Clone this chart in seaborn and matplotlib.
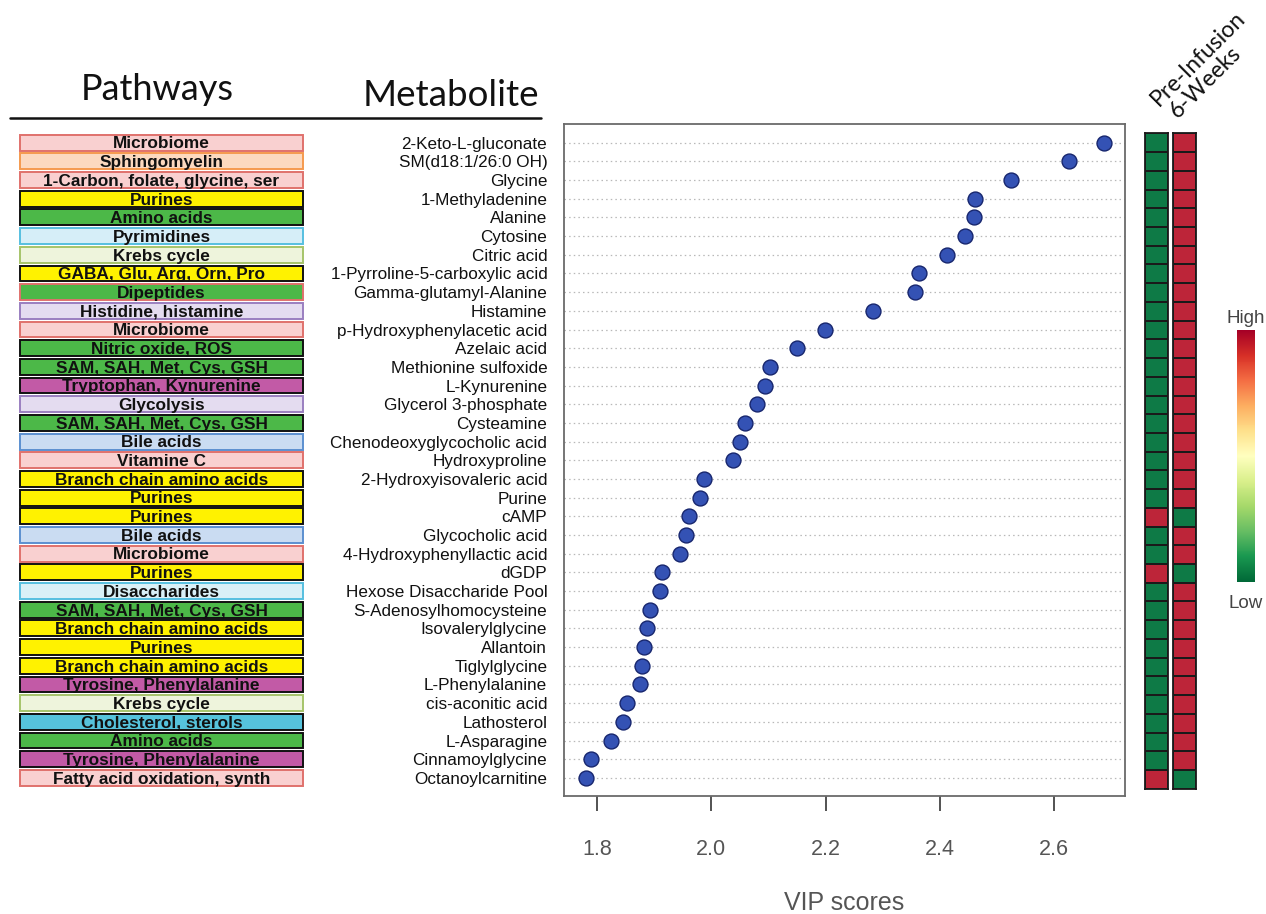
import numpy as np
import pandas as pd
import matplotlib
matplotlib.use("Agg")
import matplotlib.pyplot as plt
import matplotlib as mpl
from matplotlib.colors import ListedColormap
from matplotlib.lines import Line2D
import seaborn as sns

# ---------------- data ----------------
metabolites = [
    "2-Keto-L-gluconate", "SM(d18:1/26:0 OH)", "Glycine", "1-Methyladenine", "Alanine",
    "Cytosine", "Citric acid", "1-Pyrroline-5-carboxylic acid", "Gamma-glutamyl-Alanine",
    "Histamine", "p-Hydroxyphenylacetic acid", "Azelaic acid", "Methionine sulfoxide",
    "L-Kynurenine", "Glycerol 3-phosphate", "Cysteamine", "Chenodeoxyglycocholic acid",
    "Hydroxyproline", "2-Hydroxyisovaleric acid", "Purine", "cAMP", "Glycocholic acid",
    "4-Hydroxyphenyllactic acid", "dGDP", "Hexose Disaccharide Pool",
    "S-Adenosylhomocysteine", "Isovalerylglycine", "Allantoin", "Tiglylglycine",
    "L-Phenylalanine", "cis-aconitic acid", "Lathosterol", "L-Asparagine",
    "Cinnamoylglycine", "Octanoylcarnitine",
]
vip_scores = [
    2.688, 2.626, 2.525, 2.462, 2.459, 2.444, 2.413, 2.363, 2.356, 2.283,
    2.199, 2.149, 2.103, 2.094, 2.080, 2.059, 2.050, 2.038, 1.987, 1.980,
    1.961, 1.956, 1.945, 1.914, 1.910, 1.893, 1.888, 1.882, 1.879, 1.875,
    1.853, 1.846, 1.825, 1.789, 1.781,
]
pathways = [
    "Microbiome", "Sphingomyelin", "1-Carbon, folate, glycine, ser", "Purines",
    "Amino acids", "Pyrimidines", "Krebs cycle", "GABA, Glu, Arg, Orn, Pro",
    "Dipeptides", "Histidine, histamine", "Microbiome", "Nitric oxide, ROS",
    "SAM, SAH, Met, Cys, GSH", "Tryptophan, Kynurenine", "Glycolysis",
    "SAM, SAH, Met, Cys, GSH", "Bile acids", "Vitamine C", "Branch chain amino acids",
    "Purines", "Purines", "Bile acids", "Microbiome", "Purines", "Disaccharides",
    "SAM, SAH, Met, Cys, GSH", "Branch chain amino acids", "Purines",
    "Branch chain amino acids", "Tyrosine, Phenylalanine", "Krebs cycle",
    "Cholesterol, sterols", "Amino acids", "Tyrosine, Phenylalanine",
    "Fatty acid oxidation, synth",
]
# relative level: 1 = high, 0 = low
pre_infusion = [0]*20 + [1, 0, 0, 1] + [0]*10 + [1]
six_weeks = [1 - v for v in pre_infusion]
groups = ["Pre-Infusion", "6-Weeks"]
xticks = [1.8, 2.0, 2.2, 2.4, 2.6]

# ---------------- styles ----------------
PINK, RED = "#f9d0d0", "#e0716c"
YEL, GRN, MAG = "#fff200", "#4cb848", "#c25aa6"
path_style = {
    "Microbiome": (PINK, RED),
    "Sphingomyelin": ("#fcd9bf", "#f59a4e"),
    "1-Carbon, folate, glycine, ser": (PINK, RED),
    "Purines": (YEL, "#111111"),
    "Amino acids": (GRN, "#111111"),
    "Pyrimidines": ("#d6eef8", "#56bfe0"),
    "Krebs cycle": ("#eef4dc", "#a6c46a"),
    "GABA, Glu, Arg, Orn, Pro": (YEL, "#111111"),
    "Dipeptides": (GRN, RED),
    "Histidine, histamine": ("#e4dcf0", "#9a7fc0"),
    "Nitric oxide, ROS": (GRN, "#111111"),
    "SAM, SAH, Met, Cys, GSH": (GRN, "#111111"),
    "Tryptophan, Kynurenine": (MAG, "#111111"),
    "Glycolysis": ("#e4dcf0", "#9a7fc0"),
    "Bile acids": ("#cadcf2", "#5b8fd0"),
    "Vitamine C": (PINK, RED),
    "Branch chain amino acids": (YEL, "#111111"),
    "Disaccharides": ("#d9f0f7", "#56bfe0"),
    "Tyrosine, Phenylalanine": (MAG, "#111111"),
    "Cholesterol, sterols": ("#56c3dc", "#111111"),
    "Fatty acid oxidation, synth": (PINK, RED),
}

W, H = 1266, 914
sns.set_theme(style="white")
plt.rcParams["font.family"] = ["Liberation Sans", "DejaVu Sans"]

fig = plt.figure(figsize=(W/100, H/100), dpi=100)

def rect(x0, y0, x1, y1):
    return [x0/W, 1 - y1/H, (x1 - x0)/W, (y1 - y0)/H]

n = len(metabolites)
AX_TOP, AX_BOT = 124, 796
YLIM = (n - 1 + 0.97, -1.0)

# ---------------- main dot plot ----------------
ax = fig.add_axes(rect(564, AX_TOP, 1125, AX_BOT))
df = pd.DataFrame({"Metabolite": metabolites, "VIP": vip_scores})
sns.scatterplot(data=df, x="VIP", y="Metabolite", ax=ax, s=115,
                color="#3452b4", edgecolor="#17266e", linewidth=1.0, zorder=3)
ax.set_xlim(1.742, 2.724)
ax.set_ylim(*YLIM)
ax.grid(axis="y", linestyle=(0, (1.2, 2.5)), color="#b8b8b8", linewidth=0.9)
ax.grid(axis="x", visible=False)
for sp in ax.spines.values():
    sp.set_color("#6a6a6a")
    sp.set_linewidth(1.3)
ax.set_xticks(xticks)
ax.set_xticklabels([f"{t:.1f}" for t in xticks])
ax.tick_params(axis="x", direction="out", length=11, width=1.3, color="#444444",
               labelsize=15.5, labelcolor="#555555", pad=20, bottom=True)
ax.tick_params(axis="y", length=0, labelsize=12.3, labelcolor="#111111", pad=12)
ax.set_xlabel("VIP scores", fontsize=18, color="#555555", labelpad=22)
ax.set_ylabel("")

# ---------------- pathway boxes ----------------
axp = fig.add_axes(rect(0, AX_TOP, 320, AX_BOT))
axp.set_xlim(0, 320)
axp.set_ylim(*YLIM)
axp.axis("off")
fills = [path_style[p][0] for p in pathways]
edges = [path_style[p][1] for p in pathways]
axp.barh(np.arange(n), width=283, left=20, height=0.85, color=fills,
         edgecolor=edges, linewidth=1.4)
for i, p in enumerate(pathways):
    axp.text(161.5, i + 0.07, p, ha="center", va="center", fontsize=12.4,
             fontweight="bold", color="#111111")

# ---------------- headers ----------------
fig.text(157/W, 1 - 90/H, "Pathways", fontsize=26, family=["Lato", "DejaVu Sans"],
         ha="center", va="center", color="#111111")
fig.text(451/W, 1 - 95/H, "Metabolite", fontsize=26.5, family=["Lato", "DejaVu Sans"],
         ha="center", va="center", color="#111111")
fig.add_artist(Line2D([10/W, 541/W], [1 - 118/H, 1 - 118/H], color="#111111",
                      linewidth=1.8, transform=fig.transFigure))

# ---------------- heatmap ----------------
cell_cmap = ListedColormap(["#0e7a46", "#bd2539"])
hm_top, hm_bot = 133.4, 788.7
for vals, (x0, x1) in zip([pre_infusion, six_weeks], [(1145, 1168), (1173, 1196)]):
    axh = fig.add_axes(rect(x0, hm_top, x1, hm_bot))
    sns.heatmap(np.array(vals).reshape(-1, 1), ax=axh, cmap=cell_cmap, vmin=0, vmax=1,
                cbar=False, linewidths=1.1, linecolor="#1a1a1a",
                xticklabels=False, yticklabels=False)
    for sp in axh.spines.values():
        sp.set_visible(True)
        sp.set_color("#1a1a1a")
        sp.set_linewidth(1.3)

fig.text(1198/W, 1 - 59/H, groups[0], rotation=45, fontsize=16.5,
         family=["Lato", "DejaVu Sans"], ha="center", va="center", color="#111111",
         rotation_mode="anchor")
fig.text(1205/W, 1 - 82/H, groups[1], rotation=45, fontsize=16.5,
         family=["Lato", "DejaVu Sans"], ha="center", va="center", color="#111111",
         rotation_mode="anchor")

# ---------------- colour bar ----------------
axc = fig.add_axes(rect(1237, 330, 1255, 582))
cb = mpl.colorbar.ColorbarBase(axc, cmap=plt.get_cmap("RdYlGn_r"),
                               orientation="vertical")
cb.outline.set_visible(False)
cb.set_ticks([])
fig.text(1246/W, 1 - 318/H, "High", fontsize=13.5, color="#444444", ha="center", va="center")
fig.text(1246/W, 1 - 603/H, "Low", fontsize=13.5, color="#444444", ha="center", va="center")

fig.savefig("out.png", dpi=100)
